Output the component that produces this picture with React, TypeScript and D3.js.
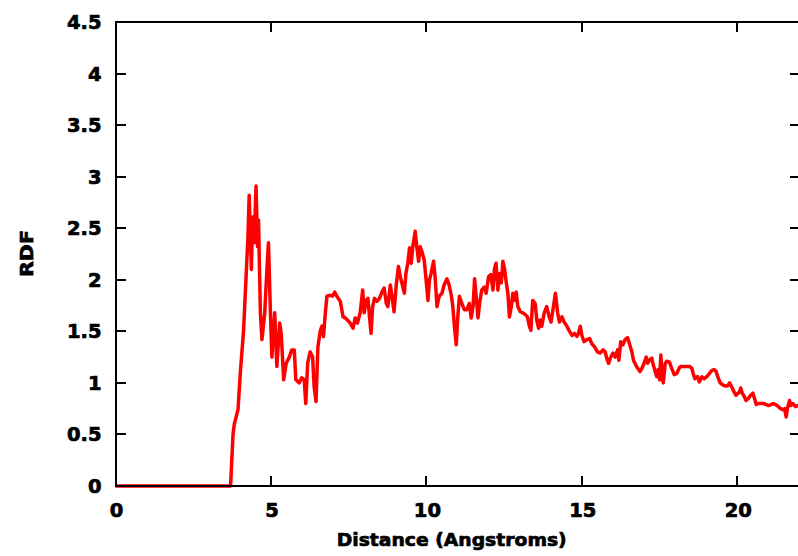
import React from "react";
import * as d3 from "d3";

const distance = [
  0, 3.7, 3.74, 3.78, 3.82, 3.94, 4.02, 4.12, 4.2, 4.26, 4.3, 4.37, 4.41, 4.46, 4.52, 4.57, 4.6,
  4.66, 4.71, 4.8, 4.87, 4.92, 4.98, 5.03, 5.12, 5.19, 5.28, 5.33, 5.41, 5.49, 5.59, 5.67, 5.75,
  5.8, 5.91, 5.99, 6.07, 6.12, 6.18, 6.26, 6.34, 6.39, 6.45, 6.51, 6.59, 6.64, 6.69, 6.75, 6.8,
  6.91, 6.98, 7.05, 7.12, 7.23, 7.32, 7.39, 7.46, 7.55, 7.64, 7.71, 7.78, 7.87, 7.95, 8.0, 8.06,
  8.12, 8.17, 8.22, 8.27, 8.33, 8.41, 8.49, 8.57, 8.64, 8.71, 8.76, 8.84, 8.91, 8.96, 9.03, 9.1,
  9.16, 9.21, 9.29, 9.34, 9.4, 9.46, 9.51, 9.57, 9.64, 9.69, 9.75, 9.8, 9.86, 9.93, 9.99, 10.05,
  10.1, 10.15, 10.23, 10.28, 10.34, 10.41, 10.5, 10.57, 10.66, 10.73, 10.8, 10.85, 10.9, 10.96,
  11.01, 11.06, 11.14, 11.22, 11.3, 11.38, 11.44, 11.5, 11.55, 11.6, 11.66, 11.71, 11.78, 11.86,
  11.92, 12.0, 12.07, 12.14, 12.19, 12.24, 12.3, 12.35, 12.41, 12.46, 12.51, 12.57, 12.62, 12.67,
  12.73, 12.78, 12.83, 12.89, 12.94, 13.02, 13.1, 13.19, 13.25, 13.31, 13.36, 13.42, 13.5, 13.55,
  13.61, 13.66, 13.71, 13.79, 13.87, 13.95, 14.01, 14.07, 14.15, 14.22, 14.28, 14.36, 14.43,
  14.52, 14.6, 14.69, 14.76, 14.84, 14.89, 14.95, 15.0, 15.07, 15.16, 15.25, 15.32, 15.41, 15.5,
  15.59, 15.68, 15.75, 15.8, 15.86, 15.93, 16.0, 16.07, 16.15, 16.19, 16.25, 16.32, 16.39, 16.47,
  16.53, 16.61, 16.66, 16.74, 16.8, 16.87, 16.93, 17.0, 17.07, 17.12, 17.17, 17.25, 17.3, 17.36,
  17.41, 17.46, 17.5, 17.54, 17.58, 17.62, 17.68, 17.73, 17.82, 17.89, 17.97, 18.05, 18.14, 18.21,
  18.29, 18.38, 18.46, 18.54, 18.59, 18.64, 18.72, 18.78, 18.86, 18.93, 19.02, 19.1, 19.18, 19.25,
  19.32, 19.37, 19.45, 19.53, 19.61, 19.68, 19.75, 19.82, 19.9, 19.96, 20.02, 20.07, 20.11, 20.16,
  20.22, 20.28, 20.36, 20.43, 20.5, 20.55, 20.61, 20.68, 20.76, 20.84, 20.93, 21.0, 21.08, 21.16,
  21.24, 21.32, 21.39, 21.46, 21.52, 21.57, 21.61, 21.68, 21.72, 21.79, 21.87, 21.94, 22.0,
];

const rdf = [
  0, 0, 0.25, 0.5, 0.6, 0.74, 1.12, 1.51, 2.03, 2.42, 2.82, 2.1, 2.61, 2.36, 2.91, 2.32, 2.58,
  1.68, 1.42, 1.68, 2.1, 2.36, 1.71, 1.25, 1.68, 1.16, 1.58, 1.48, 1.03, 1.19, 1.25, 1.32, 1.32,
  1.03, 1.0, 1.05, 1.03, 0.8, 1.19, 1.3, 1.25, 0.96, 0.82, 1.35, 1.51, 1.55, 1.45, 1.68, 1.84,
  1.85, 1.84, 1.88, 1.84, 1.79, 1.64, 1.63, 1.61, 1.58, 1.53, 1.63, 1.58, 1.68, 1.9, 1.68, 1.8,
  1.82, 1.64, 1.48, 1.74, 1.82, 1.79, 1.82, 1.88, 1.92, 1.77, 1.74, 1.95, 1.8, 1.69, 1.95, 2.13,
  2.03, 1.97, 1.87, 2.06, 2.16, 2.31, 2.16, 2.34, 2.47, 2.32, 2.18, 2.32, 2.27, 2.19, 2.0, 1.8,
  2.0, 2.06, 2.18, 2.03, 1.74, 1.84, 1.87, 1.95, 2.01, 1.95, 1.85, 1.74, 1.55, 1.37,
  1.64, 1.84, 1.77, 1.71, 1.71, 1.77, 1.63, 1.74, 2.01, 1.84, 1.63, 1.77, 1.9, 1.93,
  1.87, 2.03, 2.05, 1.9, 2.11, 2.16, 1.9, 2.06, 1.97, 2.18, 2.11, 1.97, 1.87, 1.64,
  1.74, 1.87, 1.8, 1.88, 1.74, 1.69, 1.68, 1.66, 1.64, 1.55, 1.51, 1.8, 1.77, 1.61,
  1.53, 1.61, 1.55, 1.68, 1.74, 1.64, 1.59, 1.71, 1.87, 1.68, 1.59, 1.64, 1.59,
  1.55, 1.5, 1.46, 1.48, 1.45, 1.48, 1.55, 1.46, 1.4, 1.42, 1.43, 1.38, 1.35, 1.3,
  1.29, 1.32, 1.3, 1.24, 1.19, 1.25, 1.29, 1.25, 1.32, 1.22, 1.4, 1.37, 1.42, 1.44,
  1.38, 1.3, 1.22, 1.17, 1.14, 1.11, 1.14, 1.19, 1.25, 1.19, 1.22, 1.24, 1.17, 1.11,
  1.06, 1.13, 1.03, 1.27, 1.06, 1.0, 1.19, 1.21, 1.2, 1.14, 1.08, 1.09, 1.15, 1.16,
  1.16, 1.16, 1.16, 1.14, 1.08, 1.04, 1.06, 1.01, 1.06, 1.04, 1.06, 1.09, 1.12, 1.13,
  1.11, 1.06, 1.0, 0.98, 0.97, 0.97, 1.0, 0.96, 0.91, 0.88, 0.9, 0.91, 0.95, 0.9,
  0.87, 0.83, 0.85, 0.88, 0.9, 0.85, 0.79, 0.8, 0.8, 0.8, 0.79, 0.78, 0.79, 0.8,
  0.79, 0.77, 0.75, 0.74, 0.75, 0.67, 0.75, 0.83, 0.78, 0.8, 0.77, 0.78, 0.77,
];

const xTicks = [0, 5, 10, 15, 20];
const xTickLabels = ["0", "5", "10", "15", "20"];
const yTicks = [0, 0.5, 1, 1.5, 2, 2.5, 3, 3.5, 4, 4.5];
const yTickLabels = ["0", "0.5", "1", "1.5", "2", "2.5", "3", "3.5", "4", "4.5"];
const xLabel = "Distance (Angstroms)";
const yLabel = "RDF";

export default function App() {
  const W = 798;
  const H = 556;
  const left = 115.5;
  const right = 799.5;
  const top = 22;
  const bottom = 486;
  const x = d3.scaleLinear().domain([0, 22]).range([left, right]);
  const y = d3.scaleLinear().domain([0, 4.5]).range([bottom, top]);
  const pts: [number, number][] = distance.map((d, i) => [d, rdf[i]]);
  const line = d3
    .line<[number, number]>()
    .x((d) => x(d[0]))
    .y((d) => y(d[1]));
  const tickLen = 10;
  const font = "'DejaVu Sans', 'Liberation Sans', sans-serif";

  return (
    <svg
      width={W}
      height={H}
      style={{ position: "absolute", left: 0, top: 0, background: "#fff" }}
    >
      <rect x={0} y={0} width={W} height={H} fill="#fff" />
      <path
        d={line(pts) || ""}
        fill="none"
        stroke="#ff0000"
        strokeWidth={3.5}
        strokeLinejoin="round"
      />
      <g stroke="#000" strokeWidth={2} shapeRendering="crispEdges">
        <rect x={left} y={top} width={right - left} height={bottom - top} fill="none" />
        {xTicks.map((t) => (
          <g key={"xt" + t}>
            <line x1={x(t)} x2={x(t)} y1={bottom} y2={bottom - tickLen} />
            <line x1={x(t)} x2={x(t)} y1={top} y2={top + tickLen} />
          </g>
        ))}
        {yTicks.map((t) => (
          <g key={"yt" + t}>
            <line x1={left} x2={left + tickLen} y1={y(t)} y2={y(t)} />
            <line x1={right} x2={right - tickLen} y1={y(t)} y2={y(t)} />
          </g>
        ))}
      </g>
      <g
        fontFamily={font}
        fontWeight="bold"
        fontSize={19.5}
        fill="#000"
        stroke="#000"
        strokeWidth={0.7}
      >
        {xTicks.map((t, i) => (
          <text key={"xl" + t} x={x(t) + 1} y={516.5} textAnchor="middle">
            {xTickLabels[i]}
          </text>
        ))}
        {yTicks.map((t, i) => (
          <text key={"yl" + t} x={101.5} y={y(t)} dy="0.36em" textAnchor="end">
            {yTickLabels[i]}
          </text>
        ))}
      </g>
      <text
        x={451.7}
        y={546}
        textAnchor="middle"
        fontFamily={font}
        fontWeight="bold"
        fontSize={18}
        stroke="#000"
        strokeWidth={0.7}
        textLength={230}
        lengthAdjust="spacingAndGlyphs"
      >
        {xLabel}
      </text>
      <text
        transform="translate(33,253.5) rotate(-90)"
        textAnchor="middle"
        fontFamily={font}
        fontWeight="bold"
        fontSize={18}
        stroke="#000"
        strokeWidth={0.7}
        textLength={47}
        lengthAdjust="spacingAndGlyphs"
      >
        {yLabel}
      </text>
    </svg>
  );
}
